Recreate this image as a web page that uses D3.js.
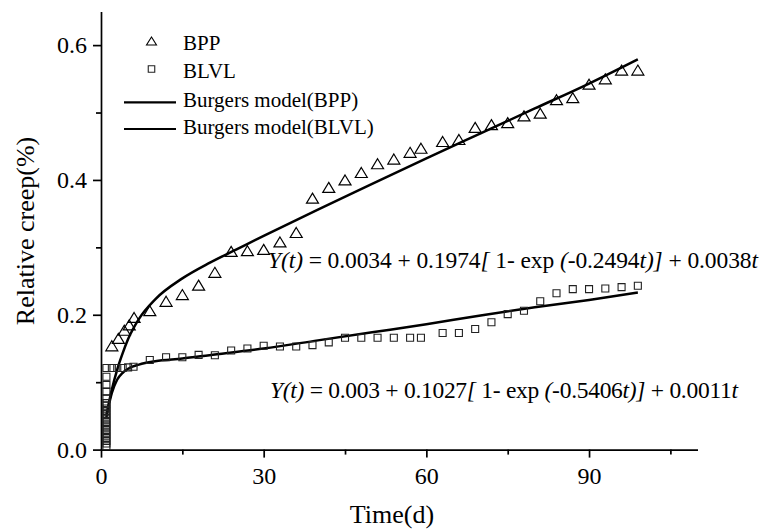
<!DOCTYPE html>
<html>
<head>
<meta charset="utf-8">
<script src="https://cdn.jsdelivr.net/npm/d3@7"></script>
<style>
  body { margin: 0; background: #fff; }
  svg { display: block; }
  text { font-family: "Liberation Serif", "Times New Roman", serif; fill: #000; }
</style>
</head>
<body>
<div id="chart"></div>
<script>
// measured creep, BPP (triangles)
const bppDays = [2, 3.2, 4.3, 5.2, 6.1, 9, 12, 15, 18, 21, 24, 27, 30, 33, 36, 39, 42, 45, 48, 51,
  54, 57, 59, 63, 66, 69, 72, 75, 78, 81, 84, 87, 90, 93, 96, 99];
const bppCreep = [0.154, 0.165, 0.177, 0.185, 0.196, 0.206, 0.220, 0.230, 0.244, 0.263, 0.294, 0.295,
  0.297, 0.308, 0.322, 0.373, 0.389, 0.400, 0.411, 0.424, 0.431, 0.441, 0.447, 0.457, 0.460, 0.478,
  0.482, 0.485, 0.495, 0.499, 0.519, 0.522, 0.542, 0.550, 0.563, 0.563];

// measured creep, BLVL (squares) - first day has many readings stacked up
const blvlDays = [1, 1, 1, 1, 1, 1, 1, 1, 1, 1, 1, 1, 1, 1, 1, 1, 1, 1, 1, 1, 1, 1,
  2, 3, 4, 5, 6, 9, 12, 15, 18, 21, 24, 27, 30, 33, 36, 39, 42, 45, 48, 51, 54, 57, 59,
  63, 66, 69, 72, 75, 78, 81, 84, 87, 90, 93, 96, 99];
const blvlCreep = [0.121, 0.108, 0.096, 0.086, 0.076, 0.069, 0.065, 0.061, 0.057, 0.053, 0.049,
  0.045, 0.041, 0.037, 0.033, 0.029, 0.025, 0.021, 0.017, 0.013, 0.009, 0.005,
  0.121, 0.121, 0.121, 0.122, 0.123, 0.133, 0.137, 0.137, 0.1405, 0.140, 0.147, 0.150, 0.154,
  0.153, 0.153, 0.155, 0.159, 0.166, 0.166, 0.166, 0.166, 0.166, 0.166, 0.173, 0.173, 0.179,
  0.189, 0.201, 0.206, 0.220, 0.232, 0.238, 0.238, 0.239, 0.241, 0.243];

// Burgers model curves
const bppModelDays = [1, 1.5, 2, 3, 4, 5, 7, 10, 15, 20, 25, 30, 40, 50, 60, 70, 80, 90, 99];
const bppModel = [0.051, 0.071, 0.089, 0.119, 0.143, 0.164, 0.194, 0.223, 0.254, 0.277, 0.297,
  0.317, 0.356, 0.394, 0.432, 0.469, 0.506, 0.543, 0.579];
const blvlModelDays = [1, 1.5, 2, 3, 4, 5, 7, 10, 15, 20, 30, 40, 50, 60, 70, 80, 90, 99];
const blvlModel = [0.048, 0.068, 0.084, 0.104, 0.114, 0.120, 0.126, 0.131, 0.135, 0.140, 0.150,
  0.162, 0.174, 0.186, 0.199, 0.211, 0.222, 0.233];

const xTicks = [0, 30, 60, 90];
const xMinor = [15, 45, 75, 105];
const yTicks = [0.0, 0.2, 0.4, 0.6];
const yMinor = [0.1, 0.3, 0.5];

const legendLabels = ["BPP", "BLVL", "Burgers model(BPP)", "Burgers model(BLVL)"];

const width = 761, height = 531;
const font = '"Liberation Serif", "Times New Roman", serif';

const svg = d3.select("#chart").append("svg")
    .attr("width", width)
    .attr("height", height);

const x = d3.scaleLinear().domain([0, 110]).range([101, 697.5]);
const y = d3.scaleLinear().domain([0, 0.65]).range([449.6, 11.4]);

// axes
svg.append("g")
    .attr("transform", `translate(0,${y(0)})`)
    .call(d3.axisBottom(x).tickValues(xTicks).tickFormat(d3.format("d"))
        .tickSize(8).tickSizeOuter(0).tickPadding(9));
svg.append("g")
    .attr("transform", `translate(0,${y(0)})`)
    .call(d3.axisBottom(x).tickValues(xMinor).tickFormat("").tickSize(5))
    .call(g => g.select(".domain").remove());

svg.append("g")
    .attr("transform", `translate(${x(0)},0)`)
    .call(d3.axisLeft(y).tickValues(yTicks).tickFormat(d3.format(".1f"))
        .tickSize(8).tickSizeOuter(0).tickPadding(6));
svg.append("g")
    .attr("transform", `translate(${x(0)},0)`)
    .call(d3.axisLeft(y).tickValues(yMinor).tickFormat("").tickSize(5))
    .call(g => g.select(".domain").remove());

svg.selectAll(".domain, .tick line").attr("stroke", "#000").attr("stroke-width", 1.7);
svg.selectAll(".tick text").attr("font-family", font).attr("font-size", 24).attr("fill", "#000");

// axis titles
svg.append("text")
    .attr("x", 392).attr("y", 523)
    .attr("text-anchor", "middle")
    .attr("font-size", 26)
    .text("Time(d)");
svg.append("text")
    .attr("transform", "translate(34,231) rotate(-90)")
    .attr("text-anchor", "middle")
    .attr("font-size", 26)
    .text("Relative creep(%)");

// model curves
const line = d3.line()
    .x(d => x(d[0]))
    .y(d => y(d[1]))
    .curve(d3.curveMonotoneX);

svg.append("path")
    .datum(d3.zip(bppModelDays, bppModel))
    .attr("d", line)
    .attr("fill", "none").attr("stroke", "#000").attr("stroke-width", 2.5);
svg.append("path")
    .datum(d3.zip(blvlModelDays, blvlModel))
    .attr("d", line)
    .attr("fill", "none").attr("stroke", "#000").attr("stroke-width", 2.5);

// markers
function triangle(w, h) {
    return `M0,${-h / 2}L${w / 2},${h / 2}L${-w / 2},${h / 2}Z`;
}
function square(s) {
    return `M${-s / 2},${-s / 2}h${s}v${s}h${-s}Z`;
}

svg.append("g").selectAll("path")
    .data(d3.zip(bppDays, bppCreep))
    .join("path")
    .attr("transform", d => `translate(${x(d[0])},${y(d[1])})`)
    .attr("d", triangle(12, 10))
    .attr("fill", "none").attr("stroke", "#000").attr("stroke-width", 1.2);

svg.append("g").selectAll("path")
    .data(d3.zip(blvlDays, blvlCreep))
    .join("path")
    .attr("transform", d => `translate(${x(d[0])},${y(d[1])})`)
    .attr("d", square(7))
    .attr("fill", "none").attr("stroke", "#222").attr("stroke-width", 1.1);

// legend
const legend = svg.append("g");
const legendY = [50, 78, 106.5, 134];
legend.append("path")
    .attr("transform", "translate(151.5,41)")
    .attr("d", triangle(10, 8))
    .attr("fill", "none").attr("stroke", "#000").attr("stroke-width", 1.1);
legend.append("path")
    .attr("transform", "translate(151.5,69)")
    .attr("d", square(6.5))
    .attr("fill", "none").attr("stroke", "#222").attr("stroke-width", 1.1);
[102.3, 129].forEach(ly => {
    legend.append("line")
        .attr("x1", 124).attr("x2", 176)
        .attr("y1", ly).attr("y2", ly)
        .attr("stroke", "#000").attr("stroke-width", 2.2);
});
legend.selectAll("text")
    .data(legendLabels)
    .join("text")
    .attr("x", 183)
    .attr("y", (d, i) => legendY[i])
    .attr("font-size", 21)
    .text(d => d);

// fitted equations
function equation(x0, y0, len, parts) {
    const t = svg.append("text")
        .attr("x", x0).attr("y", y0)
        .attr("font-size", 23.5)
        .attr("textLength", len)
        .attr("lengthAdjust", "spacing");
    parts.forEach(p => {
        t.append("tspan")
            .attr("font-style", p[1] ? "italic" : "normal")
            .text(p[0]);
    });
}
equation(268, 268, 490, [
    ["Y(t)", true], [" = 0.0034 + 0.1974", false], ["[", true], [" 1- exp ", false],
    ["(", true], ["-0.2494", false], ["t)]", true], [" + 0.0038", false], ["t", true]
]);
equation(270, 398, 468, [
    ["Y(t)", true], [" = 0.003 + 0.1027", false], ["[", true], [" 1- exp ", false],
    ["(", true], ["-0.5406", false], ["t)]", true], [" + 0.0011", false], ["t", true]
]);
</script>
</body>
</html>
